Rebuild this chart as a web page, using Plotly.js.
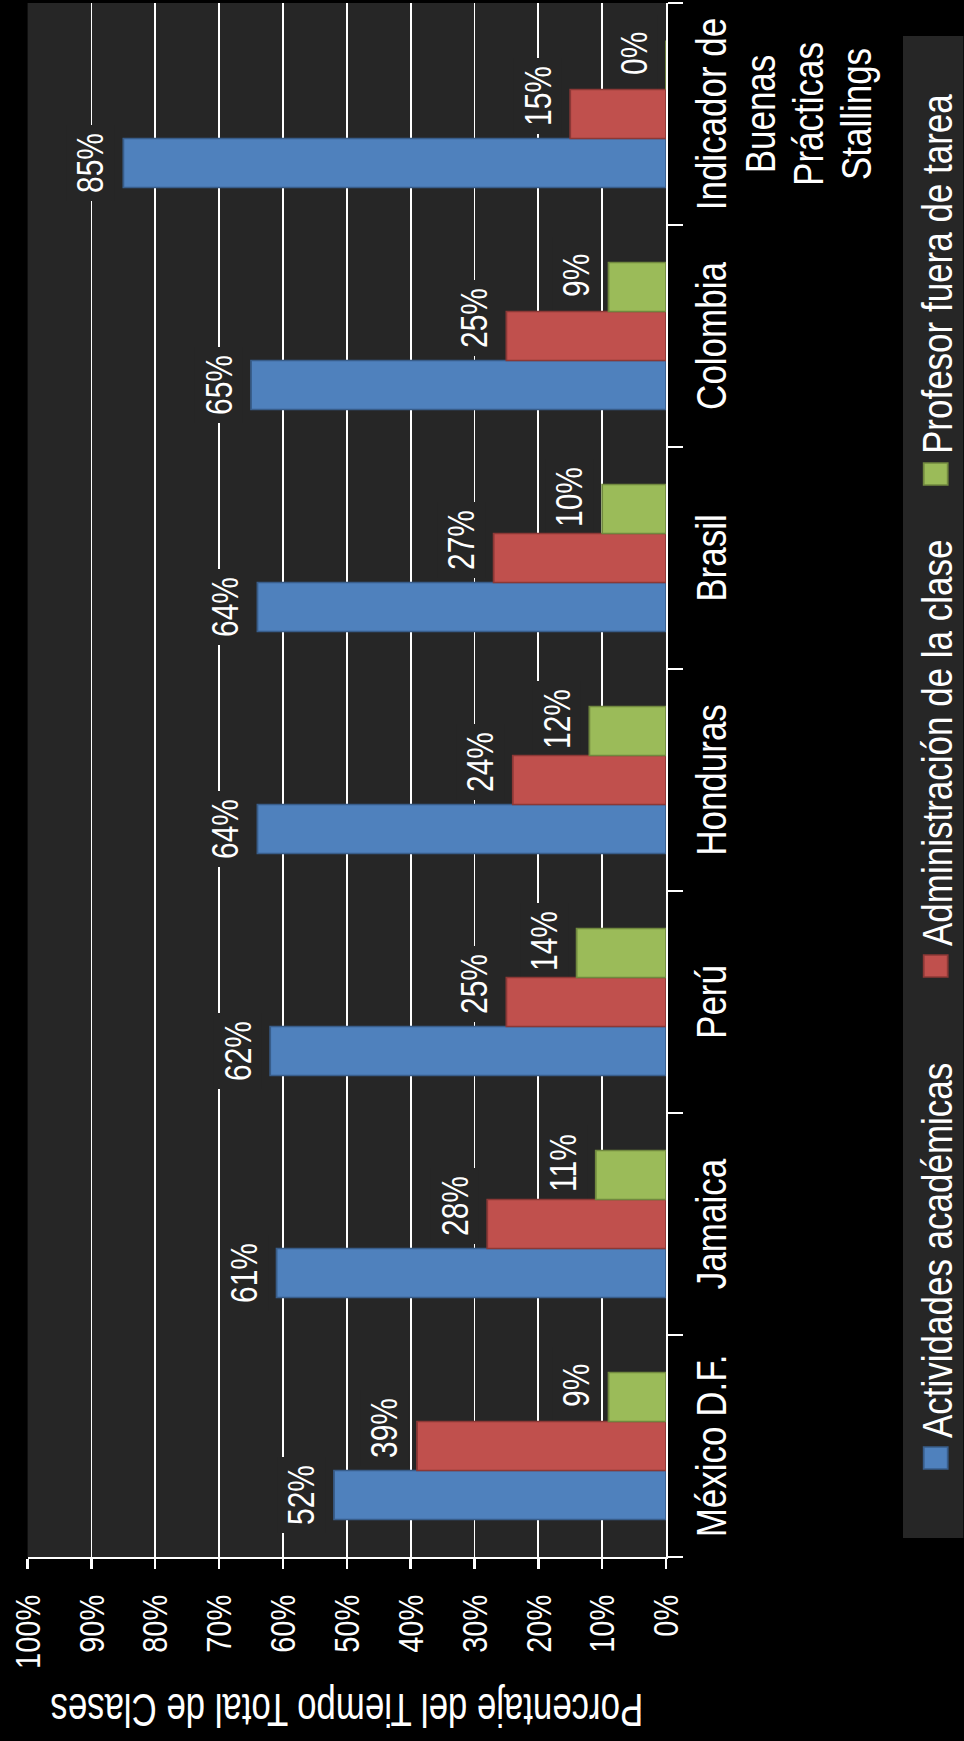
<!DOCTYPE html>
<html>
<head>
<meta charset="utf-8">
<script src="https://cdn.plot.ly/plotly-3.0.1.min.js"></script>
<style>
html, body { margin: 0; padding: 0; background: #000; width: 964px; height: 1741px; overflow: hidden; }
#wrap { position: absolute; left: 0; top: 0; width: 964px; height: 1741px; overflow: hidden; }
#chart { position: absolute; left: 0; top: 0; transform-origin: 0 0; }
</style>
</head>
<body>
<div id="wrap"><div id="chart"></div></div>
<script>
// ---- data ----
const categories = ['México D.F.', 'Jamaica', 'Perú', 'Honduras', 'Brasil', 'Colombia',
                    'Indicador de<br>Buenas<br>Prácticas<br>Stallings'];
const seriesNames = ['Actividades académicas', 'Administración de la clase', 'Profesor fuera de tarea'];
const actividades = [52, 61, 62, 64, 64, 65, 85];
const administracion = [39, 28, 25, 24, 27, 25, 15];
const profesor = [9, 11, 14, 12, 10, 9, 0];
const valueTicks = [0, 10, 20, 30, 40, 50, 60, 70, 80, 90, 100];
const axisTitle = 'Porcentaje del Tiempo Total de Clases';

// ---- styling ----
const fills = ['#4F81BD', '#C0504D', '#9BBB59'];
const outlines = ['#385D8A', '#8C3836', '#71893F'];
const labelShift = [0, 18, 12];   // px nudge of each series' value labels
const FONT = "'Liberation Sans', Arial, Helvetica, sans-serif";
const S = 1.2;                 // the original picture is stretched across its height
const TITLE_SQUEEZE = 0.63;    // the axis title is set in a narrower face
const W = 1741;
const H = Math.round(964 / S);
const BARGAP = 0.338;
const barW = (1 - BARGAP) / 3;

const el = document.getElementById('chart');
el.style.width = W + 'px';
el.style.height = H + 'px';

const seriesValues = [actividades, administracion, profesor];

const traces = seriesValues.map((vals, j) => ({
  type: 'bar',
  name: seriesNames[j],
  x: categories,
  y: vals,
  marker: { color: fills[j], line: { color: outlines[j], width: 1.5 } },
  hoverinfo: 'skip'
}));

const annotations = [];
const labelBoxes = [];
seriesValues.forEach((vals, j) => {
  vals.forEach((v, i) => {
    const xc = i + (j - 1) * barW;
    annotations.push({
      x: xc, y: v, xref: 'x', yref: 'y',
      text: v + '%', showarrow: false,
      xanchor: 'center', yanchor: 'middle',
      xshift: labelShift[j], yshift: 27,
      font: { family: FONT, size: 30, color: '#ffffff' }
    });
    labelBoxes.push({
      type: 'rect', layer: 'between',
      xref: 'x', yref: 'y', xsizemode: 'pixel', ysizemode: 'pixel',
      xanchor: xc, yanchor: v,
      x0: labelShift[j] - 38, x1: labelShift[j] + 38, y0: 7, y1: 47,
      fillcolor: '#262626', line: { width: 0 }
    });
  });
});

const mL = 184, mR = 3, mT = 23, mB = H - 555;
const plotW = W - mL - mR, plotH = H - mT - mB;
const px = X => (X - mL) / plotW;
const py = Y => (H - mB - Y) / plotH;

const layout = {
  width: W, height: H,
  margin: { l: mL, r: mR, t: mT, b: mB, autoexpand: false },
  paper_bgcolor: '#000000',
  plot_bgcolor: '#262626',
  font: { family: FONT, color: '#ffffff' },
  barmode: 'group',
  bargap: BARGAP,
  bargroupgap: 0,
  showlegend: true,
  legend: {
    orientation: 'h',
    x: px(263), xanchor: 'left',
    y: py(780), yanchor: 'middle',
    bgcolor: 'rgba(0,0,0,0)',
    font: { family: FONT, size: 35, color: '#ffffff' },
    entrywidth: 447, entrywidthmode: 'pixels',
    traceorder: 'normal'
  },
  xaxis: {
    type: 'category',
    tickson: 'boundaries',
    tickangle: 0,
    ticks: 'outside', ticklen: 12, tickwidth: 2, tickcolor: '#ffffff',
    showline: true, linecolor: '#ffffff', linewidth: 2,
    showgrid: false,
    tickvals: categories,
    ticktext: categories.map(c => '<span style="font-size:35px">' + c + '</span>'),
    tickfont: { family: FONT, size: 31, color: '#ffffff' },
    ticklabelstandoff: 11,
    automargin: false
  },
  yaxis: {
    range: [0, 100],
    tickvals: valueTicks,
    ticktext: valueTicks.map(v => v + '%'),
    ticks: 'outside', ticklen: 10, tickwidth: 2, tickcolor: '#ffffff',
    showline: true, linecolor: '#ffffff', linewidth: 2,
    showgrid: true, gridcolor: '#ffffff', gridwidth: 1.5,
    zeroline: false,
    tickfont: { family: FONT, size: 29, color: '#ffffff' },
    ticklabelstandoff: 20,
    title: { text: axisTitle, font: { family: FONT, size: 46, color: '#ffffff' }, standoff: 10 },
    automargin: false
  },
  shapes: [{
    type: 'rect', xref: 'paper', yref: 'paper',
    x0: px(203), x1: px(1705), y0: py(H), y1: py(752.5),
    fillcolor: '#262626', line: { width: 0 }, layer: 'below'
  }].concat(labelBoxes),
  annotations: annotations
};

Plotly.newPlot(el, traces, layout, { staticPlot: true, displayModeBar: false }).then(gd => {
  // larger legend swatches, like the original
  gd.querySelectorAll('g.legendpoints path').forEach(p => p.setAttribute('d', 'M11,10H-11V-10H11Z'));
  // the axis title: narrower face, centred at the original spot
  const t = gd.querySelector('.g-ytitle text');
  if (t) {
    const svgR = gd.querySelector('.main-svg').getBoundingClientRect();
    const r = t.getBoundingClientRect();
    const cx = r.left + r.width / 2 - svgR.left;
    const cy = r.top + r.height / 2 - svgR.top;
    const tx = 31, ty = (mT + (H - mB)) / 2;
    t.parentNode.setAttribute('transform',
      'translate(' + tx + ',' + ty + ') scale(1,' + TITLE_SQUEEZE + ') translate(' + (-cx) + ',' + (-cy) + ')');
  }
  // stretch the finished column chart and turn it 90° counter-clockwise
  el.style.transform = 'translate(0px, ' + W + 'px) rotate(-90deg) scale(1, ' + S + ')';
});
</script>
</body>
</html>
